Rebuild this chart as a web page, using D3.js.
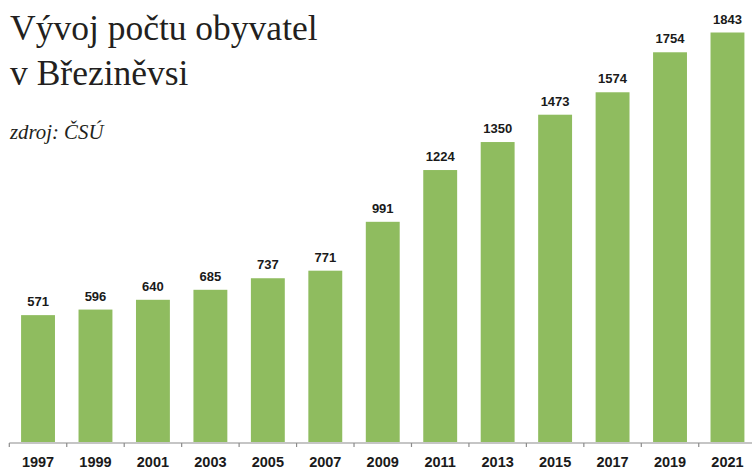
<!DOCTYPE html>
<html lang="cs">
<head>
    <meta charset="UTF-8">
    <title>Vývoj počtu obyvatel v Březiněvsi</title>
    <script src="https://cdn.jsdelivr.net/npm/d3@7"></script>
    <style>
        body { margin: 0; background: #fff; }
        svg { display: block; }
    </style>
</head>
<body>
    <div id="chart-space"></div>

    <script>
        // population by year (source: CSU)
        var years = ["1997", "1999", "2001", "2003", "2005", "2007", "2009", "2011", "2013", "2015", "2017", "2019", "2021"];
        var population = [571, 596, 640, 685, 737, 771, 991, 1224, 1350, 1473, 1574, 1754, 1843];
        var titleLines = ["Vývoj počtu obyvatel", "v Březiněvsi"];
        var sourceText = "zdroj: ČSÚ";

        var width = 752;
        var height = 470;

        var data = years.map(function(y, i) { return {year: y, value: population[i]}; });

        var svg = d3.select("#chart-space")
            .append("svg")
            .attr("width", width)
            .attr("height", height);

        var xScale = d3.scaleBand()
            .domain(years)
            .range([9.3, 756.2])
            .paddingInner(0.41)
            .paddingOuter(0.205);

        var baseY = 442;
        var yScale = d3.scaleLinear()
            .domain([0, 1843])
            .range([baseY, 32.5]);

        // bars
        svg.selectAll("rect.bar")
            .data(data)
            .join("rect")
            .attr("class", "bar")
            .attr("x", function(d) { return xScale(d.year); })
            .attr("y", function(d) { return yScale(d.value); })
            .attr("width", xScale.bandwidth())
            .attr("height", function(d) { return baseY - yScale(d.value); })
            .attr("fill", "#8fbc5f");

        // value labels
        svg.selectAll("text.val")
            .data(data)
            .join("text")
            .attr("class", "val")
            .attr("x", function(d) { return xScale(d.year) + xScale.bandwidth() / 2; })
            .attr("y", function(d) { return yScale(d.value) - 9; })
            .attr("text-anchor", "middle")
            .style("font-family", "'Liberation Sans', Arial, sans-serif")
            .style("font-weight", "bold")
            .style("font-size", "13px")
            .style("fill", "#1a1a1a")
            .text(function(d) { return d.value; });

        // x axis: line with ticks at category boundaries
        var step = xScale.step();
        var x0 = 9.3;
        var axis = svg.append("g").attr("class", "axis");
        axis.append("line")
            .attr("x1", x0)
            .attr("x2", width)
            .attr("y1", baseY + 1)
            .attr("y2", baseY + 1)
            .attr("stroke", "#8c8c8c")
            .attr("stroke-width", 1.2);

        axis.selectAll("line.tick")
            .data(d3.range(years.length))
            .join("line")
            .attr("class", "tick")
            .attr("x1", function(i) { return x0 + i * step; })
            .attr("x2", function(i) { return x0 + i * step; })
            .attr("y1", baseY + 1)
            .attr("y2", baseY + 5)
            .attr("stroke", "#8c8c8c")
            .attr("stroke-width", 1.2);

        axis.selectAll("text.year")
            .data(years)
            .join("text")
            .attr("class", "year")
            .attr("x", function(d) { return xScale(d) + xScale.bandwidth() / 2; })
            .attr("y", 466.5)
            .attr("text-anchor", "middle")
            .style("font-family", "'Liberation Sans', Arial, sans-serif")
            .style("font-weight", "bold")
            .style("font-size", "14.5px")
            .style("fill", "#1a1a1a")
            .text(function(d) { return d; });

        // title and source
        svg.selectAll("text.title")
            .data(titleLines)
            .join("text")
            .attr("class", "title")
            .attr("x", 10)
            .attr("y", function(d, i) { return 40 + i * 44.5; })
            .style("font-family", "'Liberation Serif', 'Times New Roman', serif")
            .style("font-size", "35.5px")
            .style("fill", "#231f20")
            .text(function(d) { return d; });

        svg.append("text")
            .attr("x", 10)
            .attr("y", 139)
            .style("font-family", "'Liberation Serif', 'Times New Roman', serif")
            .style("font-style", "italic")
            .style("font-size", "20.8px")
            .style("fill", "#231f20")
            .text(sourceText);
    </script>
</body>
</html>
